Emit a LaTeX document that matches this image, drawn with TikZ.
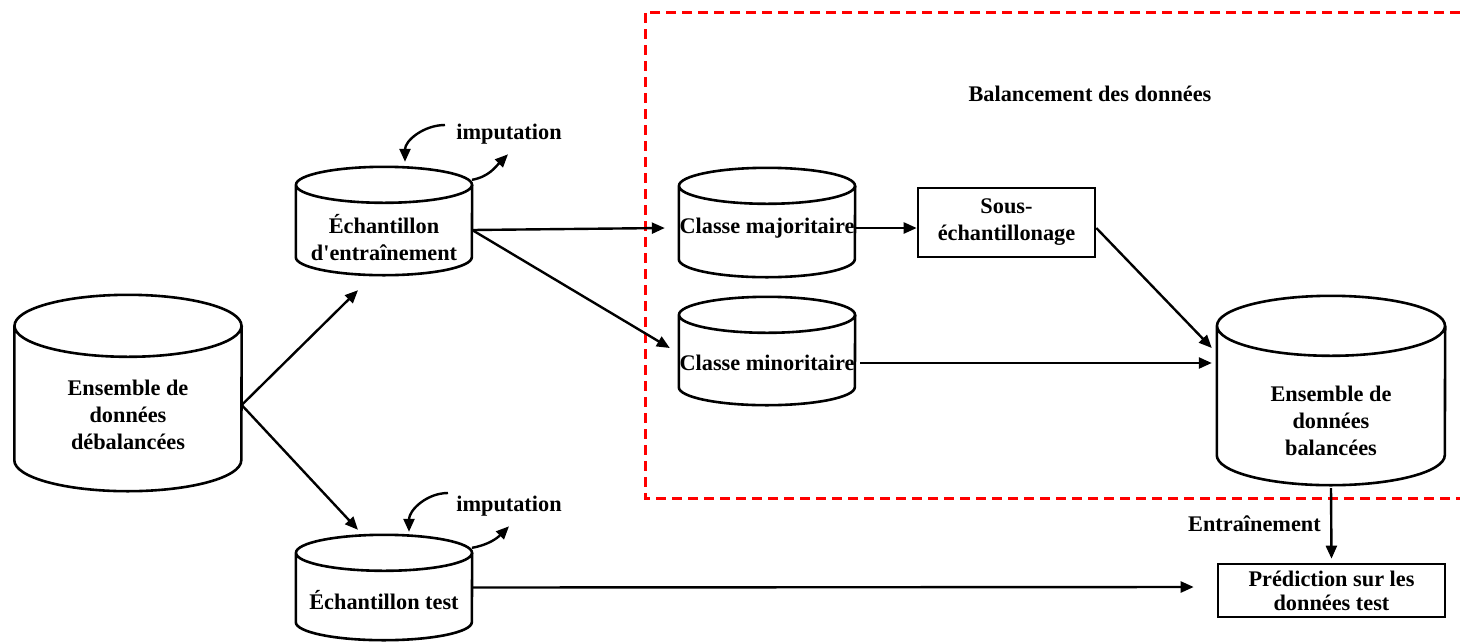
\documentclass[tikz,border=0pt]{standalone}
\usepackage{fontspec}
\setmainfont{Liberation Serif}
\usepackage{tikz}
\usetikzlibrary{arrows.meta,calc}

% contour d'un cylindre autour du corps d'un noeud
\newcommand\cylindre[3]{%
  \draw[line width=2.6pt] (#1.north) ellipse[x radius=#2, y radius=#3]
    (#1.north west) -- (#1.south west) arc[start angle=180, end angle=360, x radius=#2, y radius=#3] -- (#1.north east);}

\begin{document}
\begin{tikzpicture}[x=1pt, y=1pt,
        font=\fontsize{22.3}{27}\selectfont\bfseries,
        dbase/.style={rectangle, inner sep=0pt},
        txt/.style={align=center, inner sep=0pt},
        boite/.style={draw, line width=2.6pt, rectangle, inner sep=0pt, align=center},
        arr/.style={line width=2.4pt, -{Triangle[length=13pt,width=11pt]}}]
        \useasboundingbox (0,0) rectangle (1460,-641);

        % cylindres
        \node[dbase, minimum width=227pt, minimum height=134pt] (ens) at (128,-393) {};
        \node[dbase, minimum width=176pt, minimum height=72pt] (ent) at (384,-221) {};
        \node[dbase, minimum width=176pt, minimum height=69pt] (tst) at (384,-587.5) {};
        \node[dbase, minimum width=176pt, minimum height=73pt] (maj) at (767,-222.5) {};
        \node[dbase, minimum width=176pt, minimum height=72pt] (min) at (767,-351) {};
        \node[dbase, minimum width=228pt, minimum height=129pt] (bal) at (1331,-390.5) {};
        \cylindre{ens}{113.5}{31}
        \cylindre{ent}{88}{18}
        \cylindre{tst}{88}{18}
        \cylindre{maj}{88}{18}
        \cylindre{min}{88}{18}
        \cylindre{bal}{114}{30}

        \node[txt] (ens-t) at (128,-415) {Ensemble de\\données\\débalancées};
        \node[txt] (ent-t) at (384,-238) {Échantillon\\d\textquotesingle entraînement};
        \node[txt] (tst-t) at (384,-600) {Échantillon test};
        \node[txt] (maj-t) at (767,-228) {Classe majoritaire};
        \node[txt] (min-t) at (767,-363) {Classe minoritaire};
        \node[txt] (bal-t) at (1331,-421) {Ensemble de\\données\\balancées};

        % boites
        \node[boite, minimum width=177pt, minimum height=69pt] (sous) at (1006.5,-222.5) {Sous-\\échantillonage};
        \node[boite, minimum width=227pt, minimum height=53pt, font=\fontsize{22.3}{24}\selectfont\bfseries] (pred) at (1331.5,-590.5) {Prédiction sur les\\données test};

        % textes
        \node[txt] (titre) at (1090,-94) {Balancement des données};
        \node[txt] (imp1) at (509,-134) {imputation};
        \node[txt] (imp2) at (509,-506) {imputation};

        % zone de balancement
        \draw[red, line width=3pt, dash pattern=on 10pt off 6pt] (1460,-12) -- (645,-12) -- (645,-498) -- (1460,-498);

        % fleches
        \draw[arr] ([yshift=-12pt]ens.east) -- ([shift={(-26pt,-33pt)}]ent.south);
        \draw[arr] ([yshift=-12pt]ens.east) -- ([shift={(-26pt,23pt)}]tst.north);
        \draw[arr] ([yshift=-9pt]ent.east) -- ([shift={(-14pt,-5.5pt)}]maj.west);
        \draw[arr] ([yshift=-9pt]ent.east) -- ([shift={(-9pt,3pt)}]min.west);
        \draw[arr] ([yshift=-5.5pt]maj.east) -- ([yshift=-5.5pt]sous.west);
        \draw[arr] ([yshift=-5.5pt]sous.east) -- ([shift={(-5pt,42.5pt)}]bal.west);
        \draw[arr] ([shift={(5pt,-12pt)}]min.east) -- ([shift={(-5pt,27.5pt)}]bal.west);
        \draw[arr] ([yshift=-33pt]bal.south) -- node[left=6pt] (entr) {Entraînement} ([yshift=4pt]pred.north);
        \draw[arr] (tst.east) -- ([shift={(-23pt,3.5pt)}]pred.west);

        % imputation
        \coordinate (c1) at (445,-125);
        \coordinate (c2) at (448,-493);
        \draw[arr] (c1) to[out=180, in=90] ([shift={(21pt,23pt)}]ent.north);
        \draw[arr] ([shift={(88pt,5pt)}]ent.north) to[out=10, in=225] ([shift={(-1pt,-10pt)}]imp1.south);
        \draw[arr] (c2) to[out=180, in=90] ([shift={(25pt,21pt)}]tst.north);
        \draw[arr] ([shift={(88pt,5pt)}]tst.north) to[out=10, in=225] ([shift={(0pt,-10pt)}]imp2.south);
\end{tikzpicture}
\end{document}
